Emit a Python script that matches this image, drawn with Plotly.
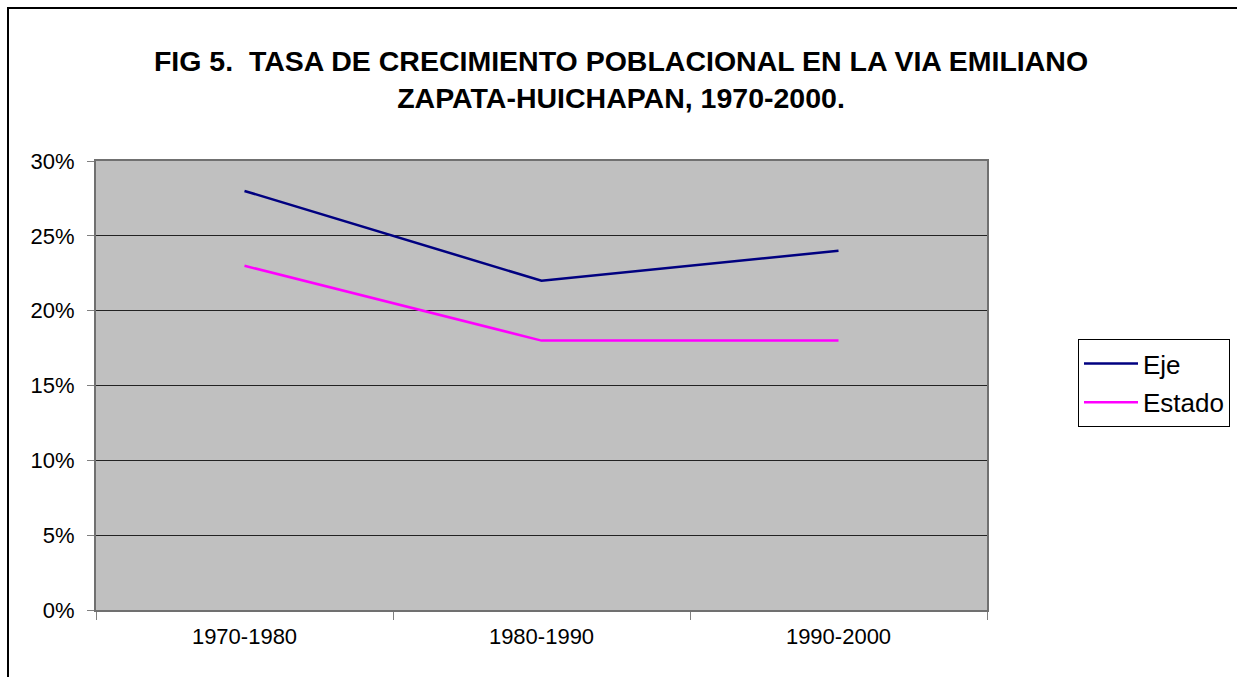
import plotly.graph_objects as go

categories = ["1970-1980", "1980-1990", "1990-2000"]
eje = [0.28, 0.22, 0.24]
estado = [0.23, 0.18, 0.18]
series_names = ["Eje", "Estado"]

W, H = 1237, 677
L, R, T, B = 96, 987, 161, 610

def px_x(px):
    return (px - L) / (R - L)

def px_y(py):
    return (B - py) / (B - T)

fig = go.Figure()
fig.add_trace(go.Scatter(x=categories, y=eje, mode="lines", name=series_names[0],
                         line=dict(color="#000080", width=2.5), legendgroup="a"))
fig.add_trace(go.Scatter(x=categories, y=estado, mode="lines", name=series_names[1],
                         line=dict(color="#FF00FF", width=2.5), legendgroup="b"))

font_family = "Liberation Sans, Arial, sans-serif"

fig.update_layout(
    width=W, height=H, autosize=False,
    margin=dict(l=L, r=W - R, t=T, b=H - B, pad=0, autoexpand=False),
    paper_bgcolor="white",
    plot_bgcolor="#C0C0C0",
    font=dict(family=font_family, color="black", size=22),
    title=dict(
        text="<b>FIG 5.\u00a0 TASA DE CRECIMIENTO POBLACIONAL EN LA VIA EMILIANO<br>ZAPATA-HUICHAPAN, 1970-2000.</b>",
        x=621 / W, xanchor="center", xref="container",
        y=1 - 71 / H, yanchor="top", yref="container",
        font=dict(size=28.5, family=font_family, color="black"),
    ),
    xaxis=dict(
        type="category", range=[-0.5, 2.5], tickson="boundaries",
        ticks="outside", ticklen=8, tickcolor="#808080", tickwidth=1,
        showgrid=False, showline=True, linecolor="#707070", linewidth=2, mirror=True,
        tickfont=dict(size=22), zeroline=False, ticklabelstandoff=6,
    ),
    yaxis=dict(
        range=[0, 0.30], dtick=0.05, tickformat=".0%",
        ticks="outside", ticklen=7, tickcolor="#808080", tickwidth=1,
        showgrid=True, gridcolor="#222222", gridwidth=1,
        showline=True, linecolor="#707070", linewidth=2, mirror=True,
        zeroline=False, tickfont=dict(size=22), ticklabelstandoff=8,
    ),
    legend=dict(
        x=px_x(1078), xanchor="left", y=px_y(339), yanchor="top",
        bgcolor="white", bordercolor="black", borderwidth=1,
        font=dict(size=26, family=font_family), tracegroupgap=2,
        itemwidth=54,
    ),
    showlegend=True,
)

# outer chart frame (right and bottom sides fall outside the window)
fig.add_shape(type="rect", xref="paper", yref="paper",
              x0=px_x(8), x1=px_x(1300), y0=px_y(720), y1=px_y(8),
              line=dict(color="black", width=2), fillcolor="rgba(0,0,0,0)", layer="below")

fig.write_html(
    "out.html",
    config={"displayModeBar": False},
    post_script="document.body.style.margin='0';document.body.style.overflow='hidden';",
)
